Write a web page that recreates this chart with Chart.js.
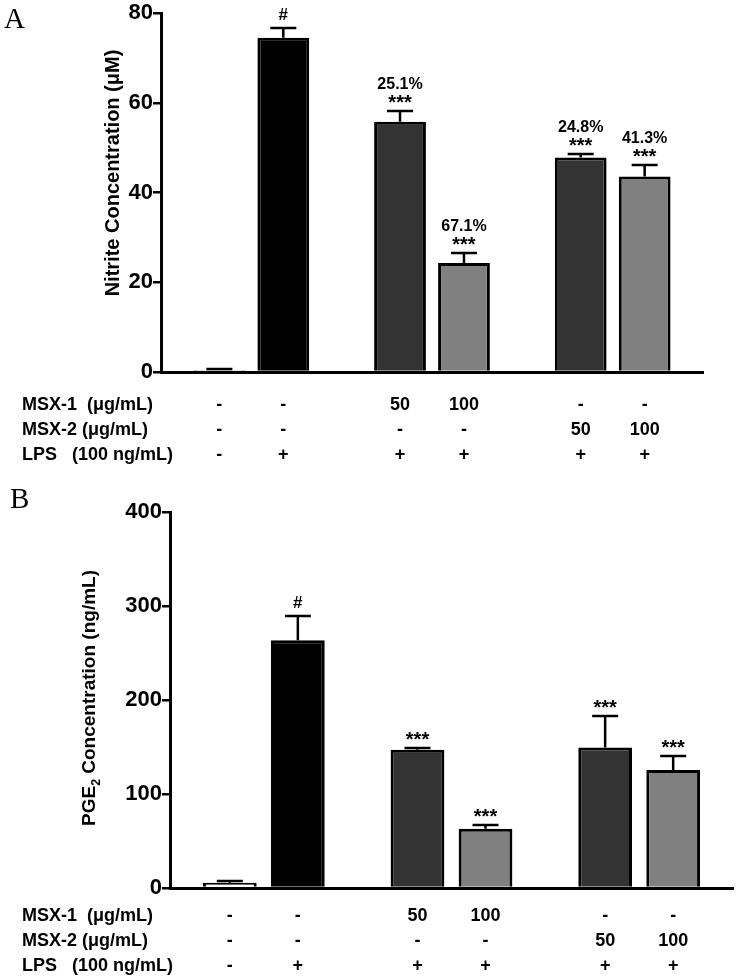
<!DOCTYPE html>
<html>
<head>
<meta charset="utf-8">
<script src="https://cdn.jsdelivr.net/npm/chart.js@4.4.0/dist/chart.umd.min.js"></script>
<style>
  body { margin: 0; background: #fff; }
  canvas { display: block; }
</style>
</head>
<body>
<canvas id="graphA" width="738" height="470"></canvas>
<canvas id="graphB" width="738" height="506"></canvas>
<script>
// six treatment groups, drawn as three pairs of bars
const groups = ['Control', 'LPS', 'MSX-1 50', 'MSX-1 100', 'MSX-2 50', 'MSX-2 100'];
const pairs = ['Control / LPS', 'MSX-1', 'MSX-2'];

const nitrite = [0.4, 74.5, 55.8, 24.3, 47.8, 43.6];
const nitriteErr = [0.2, 2.1, 2.5, 2.2, 0.8, 2.6];
const nitriteMarks = ['', '#', '***', '***', '***', '***'];
const nitriteInhib = ['', '', '25.1%', '67.1%', '24.8%', '41.3%'];
const nitriteTicks = [0, 20, 40, 60, 80];

const pge2 = [5.5, 263.5, 147, 63, 149.5, 125.5];
const pge2Err = [1.5, 26, 1.5, 3.5, 33, 15];
const pge2Marks = ['', '#', '***', '***', '***', '***'];
const pge2Ticks = [0, 100, 200, 300, 400];

const rowLabels = ['MSX-1  (\u03bcg/mL)', 'MSX-2 (\u03bcg/mL)', 'LPS   (100 ng/mL)'];
const msx1Row = ['-', '-', '50', '100', '-', '-'];
const msx2Row = ['-', '-', '-', '-', '50', '100'];
const lpsRow = ['-', '+', '+', '+', '+', '+'];

const fills = ['#ffffff', '#000000', '#333333', '#808080', '#333333', '#808080'];
const FONT = "'Liberation Sans', Arial, Helvetica, sans-serif";

Chart.defaults.font.family = FONT;
Chart.defaults.color = '#000';

function split(arr, d) {
	return arr.filter((v, i) => i % 2 == d);
}

function makePanel(p) {
	return {
		id: 'panel' + p.letter,
		afterDatasetsDraw(chart) {
			const ctx = chart.ctx;
			const y = chart.scales.y;
			ctx.save();
			ctx.strokeStyle = '#000';
			ctx.fillStyle = '#000';
			ctx.lineWidth = 2.5;
			ctx.textAlign = 'center';
			ctx.textBaseline = 'alphabetic';
			for (let i = 0; i < groups.length; ++i) {
				const bar = chart.getDatasetMeta(i % 2).data[Math.floor(i / 2)];
				const top = Math.round(y.getPixelForValue(p.values[i] + p.errors[i]));
				ctx.beginPath();
				ctx.moveTo(bar.x, bar.y);
				ctx.lineTo(bar.x, top);
				ctx.moveTo(bar.x - 13, top);
				ctx.lineTo(bar.x + 13, top);
				ctx.stroke();
				if (p.marks[i] == '#') {
					ctx.font = 'bold 17px ' + FONT;
					ctx.fillText('#', bar.x, top - 8);
				} else if (p.marks[i]) {
					ctx.font = 'bold 20px ' + FONT;
					ctx.fillText(p.marks[i], bar.x, top - 2);
				}
				if (p.inhib && p.inhib[i]) {
					ctx.font = 'bold 16px ' + FONT;
					ctx.fillText(p.inhib[i], bar.x, top - 22);
				}
			}
			ctx.restore();
		},
		afterDraw(chart) {
			const ctx = chart.ctx;
			const area = chart.chartArea;
			ctx.save();
			ctx.fillStyle = '#000';
			// panel letter
			ctx.font = '29px "Liberation Serif", "Times New Roman", serif';
			ctx.textAlign = 'left';
			ctx.textBaseline = 'alphabetic';
			ctx.fillText(p.letter, p.letterX, p.letterY);
			// y title, rotated
			ctx.translate(p.titleX, p.titleY);
			ctx.rotate(-Math.PI / 2);
			ctx.textAlign = 'left';
			ctx.textBaseline = 'middle';
			let w = 0;
			p.title.forEach(part => {
				ctx.font = 'bold ' + (part.sub ? p.titleSize * 0.65 : p.titleSize) + 'px ' + FONT;
				w += ctx.measureText(part.text).width;
			});
			let x = -w / 2;
			p.title.forEach(part => {
				ctx.font = 'bold ' + (part.sub ? p.titleSize * 0.65 : p.titleSize) + 'px ' + FONT;
				ctx.fillText(part.text, x, part.sub ? p.titleSize * 0.35 : 0);
				x += ctx.measureText(part.text).width;
			});
			ctx.setTransform(1, 0, 0, 1, 0, 0);
			// treatment table
			ctx.font = 'bold 18px ' + FONT;
			const rows = [msx1Row, msx2Row, lpsRow];
			for (let r = 0; r < rows.length; ++r) {
				const ry = area.bottom + p.rowTop + r * p.rowStep;
				ctx.textAlign = 'left';
				ctx.fillText(rowLabels[r], p.labelX, ry);
				ctx.textAlign = 'center';
				for (let i = 0; i < groups.length; ++i) {
					const bar = chart.getDatasetMeta(i % 2).data[Math.floor(i / 2)];
					ctx.fillText(rows[r][i], bar.x, ry);
				}
			}
			ctx.restore();
		}
	};
}

function makeChart(id, p) {
	return new Chart(document.getElementById(id), {
		type: 'bar',
		data: {
			labels: pairs,
			datasets: [0, 1].map(d => ({
				label: 'bar' + d,
				data: split(p.values, d),
				backgroundColor: split(fills, d),
				borderColor: '#000',
				borderWidth: 3,
				categoryPercentage: p.catPct,
				barPercentage: p.barPct
			}))
		},
		options: {
			responsive: false,
			animation: false,
			events: [],
			layout: { padding: p.padding },
			plugins: { legend: { display: false }, tooltip: { enabled: false } },
			scales: {
				x: {
					grid: { display: false },
					border: { display: true, color: '#000', width: 3 },
					ticks: { display: false },
					afterFit(scale) { scale.height = p.xHeight; }
				},
				y: {
					min: p.ticks[0],
					max: p.ticks[p.ticks.length - 1],
					afterBuildTicks(scale) { scale.ticks = p.ticks.map(v => ({ value: v })); },
					grid: { drawOnChartArea: false, drawTicks: true, tickLength: 8, color: '#000', lineWidth: 2.5 },
					border: { display: true, color: '#000', width: 3 },
					ticks: { padding: 0, font: { size: p.tickSize, weight: 'bold' }, color: '#000' },
					afterFit(scale) { scale.width = p.yWidth; }
				}
			}
		},
		plugins: [makePanel(p)]
	});
}

makeChart('graphA', {
	letter: 'A', letterX: 4, letterY: 28,
	values: nitrite, errors: nitriteErr, marks: nitriteMarks, inhib: nitriteInhib,
	ticks: nitriteTicks, tickSize: 22,
	title: [{ text: 'Nitrite Concentration (\u03bcM)' }], titleSize: 20, titleX: 113, titleY: 173,
	padding: { top: 12, left: 0, right: 35, bottom: 0 },
	yWidth: 161, xHeight: 98,
	catPct: 0.708, barPct: 0.81,
	labelX: 22, rowTop: 33, rowStep: 25
});

makeChart('graphB', {
	letter: 'B', letterX: 10, letterY: 38,
	values: pge2, errors: pge2Err, marks: pge2Marks, inhib: null,
	ticks: pge2Ticks, tickSize: 22,
	title: [{ text: 'PGE' }, { text: '2', sub: true }, { text: ' Concentration (ng/mL)' }], titleSize: 19, titleX: 90, titleY: 228,
	padding: { top: 42, left: 0, right: 5, bottom: 0 },
	yWidth: 170, xHeight: 88,
	catPct: 0.725, barPct: 0.79,
	labelX: 22, rowTop: 28, rowStep: 25
});
</script>
</body>
</html>
